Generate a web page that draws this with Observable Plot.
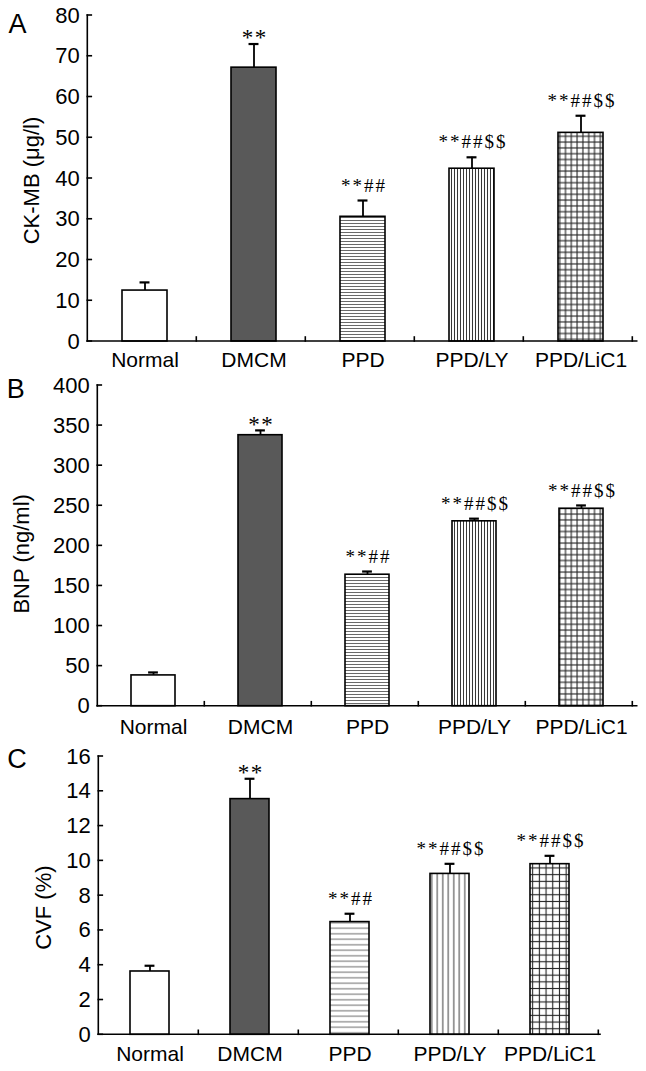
<!DOCTYPE html>
<html>
<head>
<meta charset="utf-8">
<script src="https://cdn.jsdelivr.net/npm/d3@7"></script>
<script src="https://cdn.jsdelivr.net/npm/@observablehq/plot@0.6"></script>
<style>
  body { margin: 0; background: #fff; }
  #chart svg { display: block; }
</style>
</head>
<body>
<div id="chart"></div>
<script>
// ---- data ----
const categories = ["Normal", "DMCM", "PPD", "PPD/LY", "PPD/LiC1"];

const ckmbMean = [12.5, 67.2, 30.6, 42.4, 51.2];
const ckmbErr  = [2.0, 5.8, 4.0, 2.8, 4.2];
const ckmbSig  = ["", "**", "**##", "**##$$", "**##$$"];
const ckmbTicks = [0, 10, 20, 30, 40, 50, 60, 70, 80];

const bnpMean = [38.4, 338, 164, 230.6, 246.3];
const bnpErr  = [3.7, 6, 4, 3.3, 4.1];
const bnpSig  = ["", "**", "**##", "**##$$", "**##$$"];
const bnpTicks = [0, 50, 100, 150, 200, 250, 300, 350, 400];

const cvfMean = [3.64, 13.55, 6.48, 9.25, 9.81];
const cvfErr  = [0.33, 1.17, 0.48, 0.58, 0.48];
const cvfSig  = ["", "**", "**##", "**##$$", "**##$$"];
const cvfTicks = [0, 2, 4, 6, 8, 10, 12, 14, 16];

const letters = ["A", "B", "C"];
const titles = ["CK-MB (μg/l)", "BNP (ng/ml)", "CVF (%)"];

// ---- layout / style per panel ----
const layout = [
  {key: "A", height: 372, ml: 87.3, mr: 9.3, mt: 15, mb: 31, pad: 0.59, lineGap: 3, gridGap: 5.8, xPad: 11,
   letterDx: -79.3, letterDy: -2, titleDx: -56, titleDy: 2},
  {key: "B", height: 372, ml: 97.3, mr: 9.3, mt: 13, mb: 38.3, pad: 0.59, lineGap: 3, gridGap: 5.8, xPad: 13,
   letterDx: -91, letterDy: -7, titleDx: -76, titleDy: 8},
  {key: "C", height: 327, ml: 98.3, mr: 46, mt: 12, mb: 36.7, pad: 0.61, lineGap: 5.5, gridGap: 6.7, xPad: 11,
   letterDx: -91.5, letterDy: -8, titleDx: -55, titleDy: 12}
];
const series = [
  {mean: ckmbMean, err: ckmbErr, sig: ckmbSig, ticks: ckmbTicks},
  {mean: bnpMean, err: bnpErr, sig: bnpSig, ticks: bnpTicks},
  {mean: cvfMean, err: cvfErr, sig: cvfSig, ticks: cvfTicks}
];

const W = 646;
const sansFont = "'Liberation Sans', Arial, Helvetica, sans-serif";
const serifFont = "'Liberation Serif', 'Times New Roman', serif";

function patternDefs(L) {
  return () => {
    const d = d3.create("svg:defs");
    const g = L.lineGap, s = L.gridGap;
    const h = d.append("pattern").attr("id", "h" + L.key).attr("patternUnits", "userSpaceOnUse")
      .attr("width", 6).attr("height", g);
    h.append("rect").attr("width", 6).attr("height", g).attr("fill", "white");
    h.append("line").attr("x1", 0).attr("x2", 6).attr("y1", g / 2).attr("y2", g / 2)
      .attr("stroke", "#6a6a6a").attr("stroke-width", 1);
    const v = d.append("pattern").attr("id", "v" + L.key).attr("patternUnits", "userSpaceOnUse")
      .attr("width", g).attr("height", 6);
    v.append("rect").attr("width", g).attr("height", 6).attr("fill", "white");
    v.append("line").attr("y1", 0).attr("y2", 6).attr("x1", g / 2).attr("x2", g / 2)
      .attr("stroke", "#3a3a3a").attr("stroke-width", 1);
    const c = d.append("pattern").attr("id", "g" + L.key).attr("patternUnits", "userSpaceOnUse")
      .attr("width", s).attr("height", s);
    c.append("rect").attr("width", s).attr("height", s).attr("fill", "white");
    c.append("line").attr("x1", 0).attr("x2", s).attr("y1", s / 2).attr("y2", s / 2)
      .attr("stroke", "#222").attr("stroke-width", 1.1);
    c.append("line").attr("y1", 0).attr("y2", s).attr("x1", s / 2).attr("x2", s / 2)
      .attr("stroke", "#222").attr("stroke-width", 1.1);
    return d.node();
  };
}

function axisLines(ticks) {
  return (index, scales, values, dims) => {
    const {width, height, marginLeft, marginRight, marginTop, marginBottom} = dims;
    const x0 = marginLeft, x1 = width - marginRight, yb = height - marginBottom;
    const n = categories.length;
    const step = (scales.x && scales.x.step) ? scales.x.step() : (x1 - x0) / n;
    const g = d3.create("svg:g").attr("stroke", "black").attr("stroke-width", 1.6)
      .attr("fill", "none").attr("stroke-linecap", "square");
    g.append("line").attr("x1", x0).attr("x2", x0).attr("y1", marginTop).attr("y2", yb);
    g.append("line").attr("x1", x0).attr("x2", x1).attr("y1", yb).attr("y2", yb);
    for (const t of ticks) {
      const y = scales.y(t);
      g.append("line").attr("x1", x0).attr("x2", x0 + 4).attr("y1", y).attr("y2", y);
    }
    for (let i = 1; i <= n; i++) {
      const x = x0 + i * step;
      g.append("line").attr("x1", x).attr("x2", x).attr("y1", yb).attr("y2", yb - 4);
    }
    return g.node();
  };
}

const chart = document.getElementById("chart");

layout.forEach((L, k) => {
  const S = series[k];
  const data = categories.map((c, i) => ({cat: c, value: S.mean[i], err: S.err[i], sig: S.sig[i]}));
  const fills = {
    "Normal": "white",
    "DMCM": "#595959",
    "PPD": `url(#h${L.key})`,
    "PPD/LY": `url(#v${L.key})`,
    "PPD/LiC1": `url(#g${L.key})`
  };
  const bandwidth = (W - L.ml - L.mr) / categories.length * (1 - L.pad);
  const capInset = (bandwidth - 10) / 2;
  const yMax = S.ticks[S.ticks.length - 1];

  const svg = Plot.plot({
    width: W,
    height: L.height,
    marginLeft: L.ml,
    marginRight: L.mr,
    marginTop: L.mt,
    marginBottom: L.mb,
    style: {fontFamily: sansFont, fontSize: "21px", color: "black", background: "white", overflow: "visible"},
    x: {domain: categories, paddingInner: L.pad, paddingOuter: L.pad / 2, align: 0.5,
        tickSize: 0, tickPadding: L.xPad, label: null},
    y: {domain: [0, yMax], ticks: S.ticks, tickSize: 0, tickPadding: 8, label: null, tickFormat: d => String(d)},
    color: {type: "identity"},
    marks: [
      patternDefs(L),
      Plot.ruleX(data, {x: "cat", y1: "value", y2: d => d.value + d.err, stroke: "black", strokeWidth: 1.8}),
      Plot.tickY(data, {x: "cat", y: d => d.value + d.err, stroke: "black", strokeWidth: 2.2,
                        insetLeft: capInset, insetRight: capInset}),
      Plot.barY(data, {x: "cat", y: "value", fill: d => fills[d.cat], stroke: "black", strokeWidth: 1.6}),
      axisLines(S.ticks),
      Plot.text(data.filter(d => d.sig === "**"), {
        x: "cat", y: d => d.value + d.err, text: "sig", dy: -6, dx: 0.75,
        fontFamily: serifFont, fontSize: 23, lineAnchor: "middle", fill: "black"
      }),
      Plot.text(data.filter(d => d.sig.length > 2), {
        x: "cat", y: d => d.value + d.err, text: "sig", dy: -15, dx: 1,
        fontFamily: serifFont, fontSize: 19, lineAnchor: "middle", fill: "black"
      }),
      Plot.text([letters[k]], {
        frameAnchor: "top-left", text: d => d, textAnchor: "start", lineAnchor: "top",
        dx: L.letterDx, dy: L.letterDy, fontSize: 27, fill: "black"
      }),
      Plot.text([titles[k]], {
        frameAnchor: "left", text: d => d, rotate: -90, textAnchor: "middle", lineAnchor: "middle",
        dx: L.titleDx, dy: L.titleDy, fontSize: 22, fill: "black"
      })
    ]
  });
  chart.appendChild(svg);
});

// letter spacing for significance labels
d3.selectAll("#chart svg text").each(function () {
  const t = this.textContent;
  if (/^\*\*/.test(t)) d3.select(this).style("letter-spacing", /[#$]/.test(t) ? "2px" : "1.5px");
});
// slightly larger y tick labels
d3.selectAll("#chart svg g[aria-label='y-axis tick label']").style("font-size", "22px");
</script>
</body>
</html>
